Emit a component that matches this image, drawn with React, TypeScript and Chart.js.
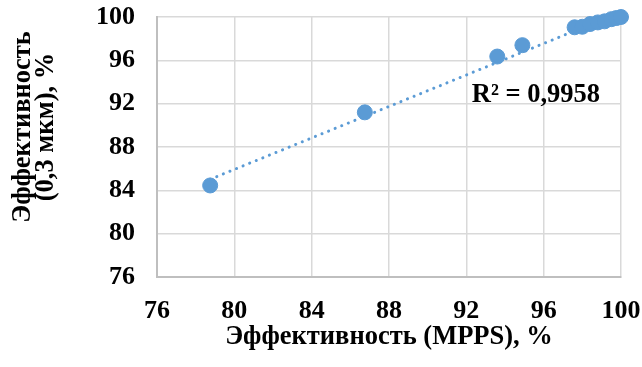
import React, { useEffect, useRef } from "react";
import { Chart, registerables } from "chart.js";

Chart.register(...registerables);

const mppsValues = [78.75, 86.75, 93.6, 94.9, 97.6, 98.0, 98.4, 98.8, 99.15, 99.5, 99.75, 100.0];
const efficiency03 = [84.45, 91.2, 96.35, 97.4, 99.05, 99.1, 99.35, 99.5, 99.6, 99.8, 99.9, 100.0];
const tickValues = [76, 80, 84, 88, 92, 96, 100];
const xTitle = "Эффективность (MPPS), %";
const yTitleLines = ["Эффективность", "(0,3 мкм), %"];
const r2Label = "R² = 0,9958";

const FONT = "'Liberation Serif', 'Times New Roman', serif";
const BLUE = "#5b9bd5";

function linearFit(xs: number[], ys: number[]) {
  const n = xs.length;
  const mx = xs.reduce((a, b) => a + b, 0) / n;
  const my = ys.reduce((a, b) => a + b, 0) / n;
  let sxy = 0, sxx = 0;
  for (let i = 0; i < n; i++) {
    sxy += (xs[i] - mx) * (ys[i] - my);
    sxx += (xs[i] - mx) * (xs[i] - mx);
  }
  const slope = sxy / sxx;
  return { slope, intercept: my - slope * mx };
}

function zeroPad(s: any) {
  s.paddingTop = 0;
  s.paddingBottom = 0;
  s.paddingLeft = 0;
  s.paddingRight = 0;
}

export default function App() {
  const ref = useRef<HTMLCanvasElement | null>(null);
  useEffect(() => {
    if (!ref.current) return;
    const fit = linearFit(mppsValues, efficiency03);
    const xMin = Math.min(...mppsValues);
    const xMax = Math.max(...mppsValues);
    const trend = [
      { x: xMin, y: fit.slope * xMin + fit.intercept },
      { x: xMax, y: fit.slope * xMax + fit.intercept },
    ];
    const points = mppsValues.map((x, i) => ({ x, y: efficiency03[i] }));

    const textPlugin = {
      id: "texts",
      afterDraw(chart: any) {
        const ctx = chart.ctx;
        const xs = chart.scales.x;
        const ys = chart.scales.y;
        ctx.save();
        ctx.fillStyle = "#000";
        ctx.textAlign = "center";
        ctx.textBaseline = "middle";
        ctx.font = `bold 26.5px ${FONT}`;
        ctx.fillText(xTitle, (xs.left + xs.right) / 2, 337);
        // y title
        ctx.save();
        ctx.translate(34, 127);
        ctx.rotate(-Math.PI / 2);
        ctx.fillText(yTitleLines[0], 0, -11);
        ctx.fillText(yTitleLines[1], 0, 12);
        ctx.restore();
        // R2
        ctx.font = `bold 26.5px ${FONT}`;
        ctx.fillText(r2Label, xs.getPixelForValue(95.6), ys.getPixelForValue(92.75));
        ctx.restore();
      },
    };

    const chart = new Chart(ref.current, {
      type: "scatter",
      data: {
        datasets: [
          {
            type: "line",
            data: trend,
            borderColor: BLUE,
            borderWidth: 3,
            borderDash: [0.1, 7],
            borderCapStyle: "round",
            pointRadius: 0,
            fill: false,
            clip: 10,
            order: 2,
          } as any,
          {
            data: points,
            backgroundColor: BLUE,
            borderColor: BLUE,
            pointRadius: 7.5,
            pointHoverRadius: 7.5,
            clip: 12,
            order: 1,
          } as any,
        ],
      },
      options: {
        responsive: false,
        animation: false,
        events: [],
        layout: { padding: { top: 17, right: 21, left: 0, bottom: 0 } },
        plugins: { legend: { display: false }, tooltip: { enabled: false } },
        scales: {
          x: {
            type: "linear",
            min: 76,
            max: 100,
            afterBuildTicks: (s: any) => { s.ticks = tickValues.map((v) => ({ value: v })); },
            afterFit: (s: any) => { s.height = 90; zeroPad(s); },
            grid: { color: "#d9d9d9", lineWidth: 1.5, drawTicks: false },
            border: { color: "#bfbfbf", width: 2 },
            ticks: { color: "#000", padding: 19, font: { family: FONT, size: 26, weight: "bold" } },
          },
          y: {
            type: "linear",
            min: 76,
            max: 100,
            afterBuildTicks: (s: any) => { s.ticks = tickValues.map((v) => ({ value: v })); },
            afterFit: (s: any) => { s.width = 157; zeroPad(s); },
            grid: { color: "#d9d9d9", lineWidth: 1.5, drawTicks: false },
            border: { color: "#bfbfbf", width: 2 },
            ticks: { color: "#000", padding: 22, font: { family: FONT, size: 26, weight: "bold" } },
          },
        },
      },
      plugins: [textPlugin],
    });
    return () => chart.destroy();
  }, []);
  return (
    <div style={{ position: "absolute", left: 0, top: 0, width: 642, height: 367, background: "#fff" }}>
      <canvas ref={ref} width={642} height={367} style={{ display: "block" }} />
    </div>
  );
}
